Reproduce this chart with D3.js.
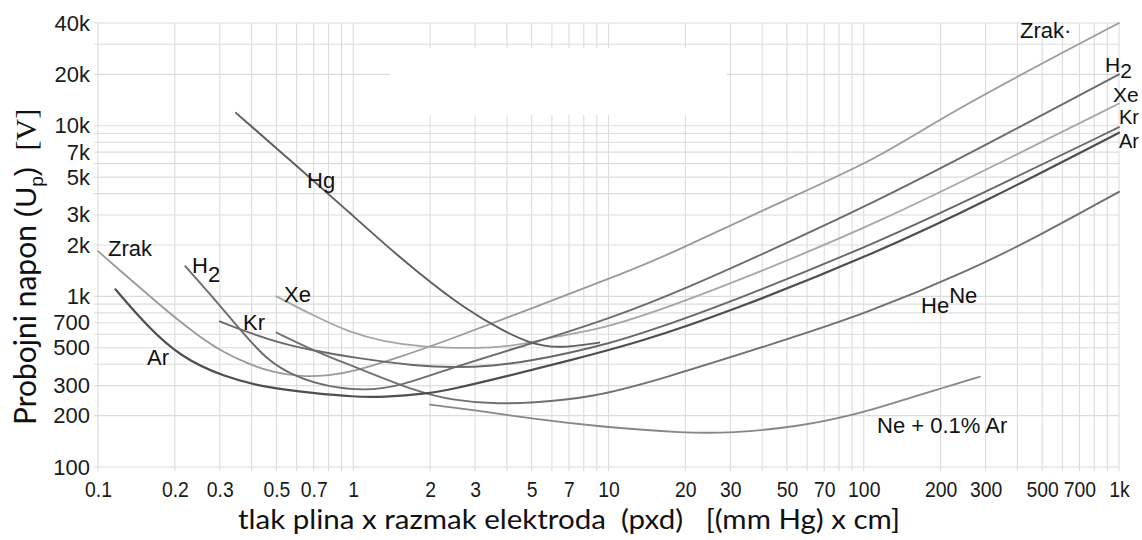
<!DOCTYPE html>
<html>
<head>
<meta charset="utf-8">
<script src="https://cdn.jsdelivr.net/npm/d3@7"></script>
<style>
  html, body { margin: 0; padding: 0; background: #fff; }
  svg { display: block; }
</style>
</head>
<body>
<div id="chart"></div>
<script>
// tick values + labels
const xTicks = [0.1, 0.2, 0.3, 0.5, 0.7, 1, 2, 3, 5, 7, 10, 20, 30, 50, 70, 100, 200, 300, 500, 700, 1000]
const xTickLabels = ['0.1', '0.2', '0.3', '0.5', '0.7', '1', '2', '3', '5', '7', '10', '20', '30', '50', '70', '100', '200', '300', '500', '700', '1k']
const yTicks = [100, 200, 300, 500, 700, 1000, 2000, 3000, 5000, 7000, 10000, 20000, 40000]
const yTickLabels = ['100', '200', '300', '500', '700', '1k', '2k', '3k', '5k', '7k', '10k', '20k', '40k']

// Paschen curves, [pxd, Up]
const zrak = [[0.1, 1840], [0.128, 1330], [0.16, 1000], [0.2, 750], [0.25, 580], [0.31, 470], [0.39, 400], [0.49, 357], [0.62, 338], [0.81, 343], [1, 362], [1.52, 440], [2.39, 559], [5, 850], [12.5, 1440], [17.4, 1770], [47, 3570], [116, 6500], [212, 11800], [1000, 40000]]
const h2 = [[0.22, 1500], [0.28, 1000], [0.36, 640], [0.46, 420], [0.6, 335], [0.8, 295], [1.1, 280], [1.5, 295], [2.4, 380], [5, 530], [10, 735], [20, 1104], [50, 2055], [116, 3700], [300, 7700], [1000, 20000]]
const xe = [[0.5, 1000], [0.7, 770], [0.97, 614], [1.3, 545], [1.87, 506], [2.5, 498], [3.5, 500], [4.5, 520], [5.9, 574], [9, 640], [13.3, 750], [40, 1400], [116, 2750], [300, 5500], [1000, 13500]]
const kr = [[0.3, 713], [0.39, 613], [0.51, 535], [0.7, 480], [1, 438], [1.78, 390], [2.5, 383], [3.5, 390], [5, 420], [7, 465], [10, 530], [13.3, 600], [30, 922], [116, 2100], [300, 4100], [1000, 9800]]
const ar = [[0.117, 1100], [0.156, 667], [0.21, 443], [0.31, 338], [0.46, 291], [0.7, 271], [1, 258], [1.3, 256], [2, 270], [2.4, 284], [4, 340], [7, 420], [13.3, 540], [30, 815], [116, 1840], [300, 3600], [1000, 9100]]
const heNe = [[0.5, 614], [0.7, 480], [1, 390], [1.78, 275], [2.5, 245], [3.5, 235], [5, 237], [8.6, 255], [15.9, 325], [47, 543], [100, 783], [267, 1442], [500, 2320], [1000, 4100]]
const hg = [[0.347, 11900], [0.62, 5580], [0.97, 3080], [1.52, 1690], [2.05, 1180], [2.78, 839], [3.77, 640], [4.92, 529], [6.4, 494], [9.2, 536]]
const neAr = [[2, 232], [3, 215], [5, 192], [9.3, 172], [20, 158], [30, 158], [56, 172], [100, 208], [156, 258], [200, 288], [285, 338]]

const width = 1142
const height = 540
const margin = { top: 23, right: 23, bottom: 73, left: 98 }

const xScale = d3.scaleLog()
  .domain([0.1, 1000])
  .range([margin.left, width - margin.right])

const yScale = d3.scaleLog()
  .domain([100, 40000])
  .range([height - margin.bottom, margin.top])

const svg = d3.select('#chart')
  .append('svg')
  .attr('width', width)
  .attr('height', height)
  .attr('viewBox', [0, 0, width, height])

// minor grid, every 1..9 in each decade
const xGrid = []
for (let e = -1; e < 3; e++) for (let m = 1; m < 10; m++) xGrid.push(+(m * 10 ** e).toPrecision(3))
xGrid.push(1000)
const yGrid = []
for (let e = 2; e < 5; e++) for (let m = 1; m < 10; m++) if (m * 10 ** e <= 40000) yGrid.push(m * 10 ** e)

const grid = svg.append('g')
  .attr('stroke', '#dcdcdc')
  .attr('stroke-width', 1.1)
grid.selectAll('.gx')
  .data(xGrid)
  .join('line')
  .attr('x1', d => xScale(d)).attr('x2', d => xScale(d))
  .attr('y1', yScale(40000)).attr('y2', yScale(100) + 4)
grid.selectAll('.gy')
  .data(yGrid)
  .join('line')
  .attr('x1', xScale(0.1) - 4).attr('x2', xScale(1000))
  .attr('y1', d => yScale(d)).attr('y2', d => yScale(d))

// blank patch in the original scan
svg.append('rect')
  .attr('x', 390).attr('y', 48)
  .attr('width', 337).attr('height', 67)
  .attr('fill', '#fff')

const xAxis = g => g
  .attr('transform', `translate(0,${yScale(100)})`)
  .call(d3.axisBottom(xScale).tickValues(xTicks).tickFormat(d => xTickLabels[xTicks.indexOf(d)]).tickSize(0))
  .call(g => g.select('.domain').remove())
  .call(g => g.selectAll('text')
    .attr('dy', null)
    .attr('y', 30)
    .attr('transform', 'scale(0.88,1)')
    .attr('fill', '#1a1a1a')
    .attr('font-size', 22)
    .attr('font-family', "'Liberation Sans', Arial, sans-serif"))

const yAxis = g => g
  .attr('transform', `translate(${xScale(0.1)},0)`)
  .call(d3.axisLeft(yScale).tickValues(yTicks).tickFormat(d => yTickLabels[yTicks.indexOf(d)]).tickSize(0).tickPadding(8))
  .call(g => g.select('.domain').remove())
  .call(g => g.selectAll('text')
    .attr('fill', '#1a1a1a')
    .attr('font-size', 22)
    .attr('font-family', "'Liberation Sans', Arial, sans-serif"))

svg.append('g').call(xAxis)
svg.append('g').call(yAxis)

const line = d3.line()
  .x(d => xScale(d[0]))
  .y(d => yScale(d[1]))
  .curve(d3.curveBasis)

const series = [
  { data: zrak, color: '#9a9a9a', w: 1.8 },
  { data: xe, color: '#a6a6a6', w: 1.8 },
  { data: h2, color: '#6c6c6c', w: 1.9 },
  { data: kr, color: '#686868', w: 1.9 },
  { data: heNe, color: '#707070', w: 1.9 },
  { data: neAr, color: '#878787', w: 1.8 },
  { data: hg, color: '#5e5e5e', w: 1.9 },
  { data: ar, color: '#4e4e4e', w: 2.2 }
]

svg.append('g')
  .attr('fill', 'none')
  .attr('stroke-linecap', 'round')
  .selectAll('path')
  .data(series)
  .join('path')
  .attr('stroke', d => d.color)
  .attr('stroke-width', d => d.w)
  .attr('d', d => line(d.data))

// curve labels
const labels = svg.append('g')
  .attr('fill', '#111')
  .attr('font-family', "'Liberation Sans', Arial, sans-serif")
  .attr('font-size', 22)

const addLabel = (x, y, main, sub, subDy, size) => {
  const t = labels.append('text').attr('x', x).attr('y', y)
  if (size) t.attr('font-size', size)
  t.append('tspan').text(main)
  if (sub) t.append('tspan').attr('dy', subDy).text(sub)
  return t
}

addLabel(108, 256, 'Zrak')
addLabel(192, 273, 'H', '2', 9)
addLabel(243, 330, 'Kr')
addLabel(284, 302, 'Xe')
addLabel(147, 365, 'Ar')
addLabel(307, 188, 'Hg')
addLabel(921, 313, 'He', 'Ne', -10)
addLabel(877, 433, 'Ne + 0.1% Ar')
addLabel(1020, 38, 'Zrak·')
addLabel(1105, 72, 'H', '2', 6, 21)
addLabel(1113, 102, 'Xe', null, 0, 21)
addLabel(1119, 124, 'Kr', null, 0, 20)
addLabel(1119, 148, 'Ar', null, 0, 20)

// axis titles
svg.append('text')
  .attr('x', 238)
  .attr('y', 529)
  .attr('font-family', "Lato, 'Open Sans', sans-serif")
  .attr('font-size', 26)
  .attr('fill', '#111')
  .attr('textLength', 662)
  .attr('lengthAdjust', 'spacingAndGlyphs')
  .style('white-space', 'pre')
  .text('tlak plina x razmak elektroda  (pxd)   [(mm Hg) x cm]')

const yTitle = svg.append('text')
  .attr('transform', 'translate(36,425) rotate(-90)')
  .attr('fill', '#111')
  .style('white-space', 'pre')
yTitle.append('tspan')
  .attr('font-family', "Lato, 'Open Sans', sans-serif")
  .attr('font-size', 30)
  .text('Probojni napon ')
yTitle.append('tspan')
  .attr('font-family', "'Liberation Sans', Arial, sans-serif")
  .attr('font-size', 29)
  .text('(U')
yTitle.append('tspan')
  .attr('font-family', "'Liberation Sans', Arial, sans-serif")
  .attr('font-size', 19)
  .attr('dy', 7)
  .text('p')
yTitle.append('tspan')
  .attr('font-family', "'Liberation Sans', Arial, sans-serif")
  .attr('font-size', 29)
  .attr('dy', -7)
  .text(')  ')
yTitle.append('tspan')
  .attr('font-family', "'Liberation Serif', 'Times New Roman', serif")
  .attr('font-size', 30)
  .text('[V]')
</script>
</body>
</html>
